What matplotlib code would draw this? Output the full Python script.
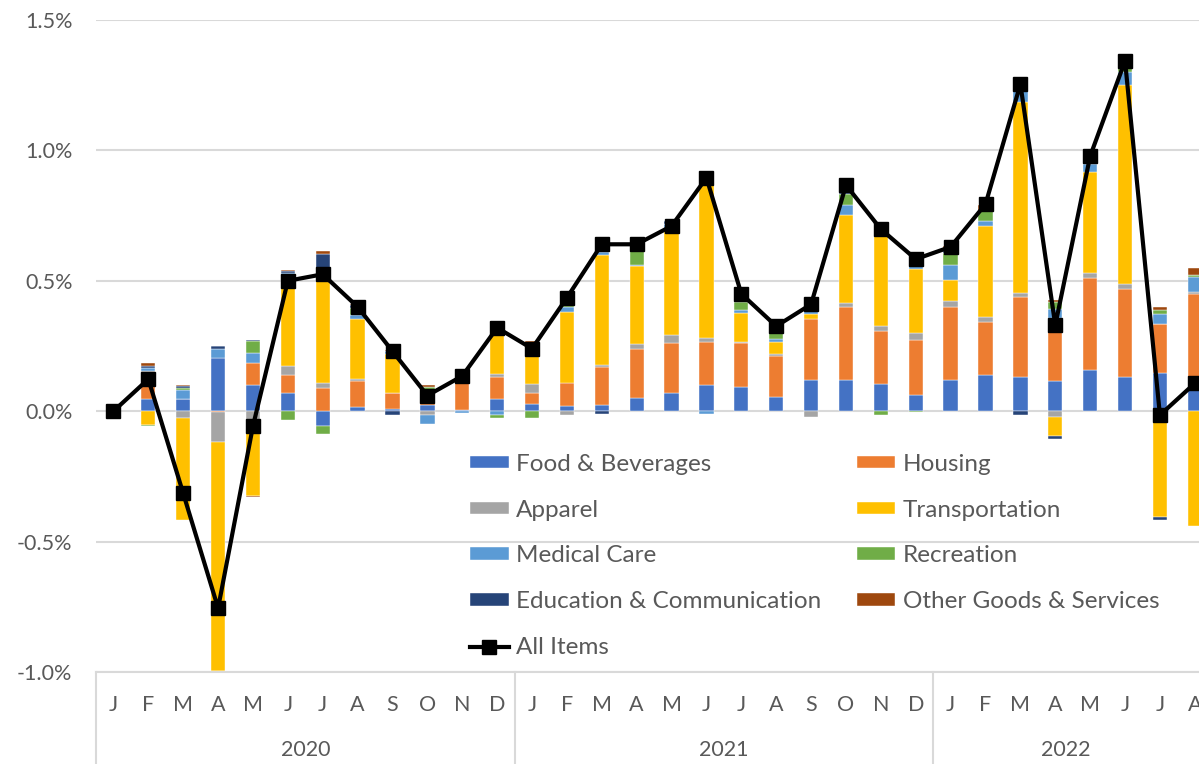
import matplotlib
matplotlib.use("Agg")
import matplotlib.pyplot as plt
import numpy as np
from matplotlib.ticker import FuncFormatter

plt.rcParams['font.family'] = ['Lato', 'DejaVu Sans']

months = ["J", "F", "M", "A", "M", "J", "J", "A", "S", "O", "N", "D"] * 2 + ["J", "F", "M", "A", "M", "J", "J", "A"]
years = ["2020", "2021", "2022"]

# monthly contributions, percentage points
food = [0, 0.045, 0.045, 0.204, 0.102, 0.07, -0.055, 0.017, 0.009, 0.024, 0.005, 0.045,
        0.026, 0.019, 0.022, 0.049, 0.068, 0.10, 0.091, 0.055, 0.121, 0.119, 0.104, 0.061,
        0.119, 0.139, 0.13, 0.114, 0.158, 0.13, 0.146, 0.086]
housing = [0, 0.096, 0, -0.004, 0.083, 0.07, 0.089, 0.098, 0.061, 0.018, 0.105, 0.086,
           0.042, 0.089, 0.148, 0.188, 0.192, 0.164, 0.171, 0.157, 0.234, 0.281, 0.203, 0.211,
           0.279, 0.202, 0.307, 0.244, 0.353, 0.339, 0.189, 0.364]
apparel = [0, 0.013, -0.027, -0.115, -0.068, 0.032, 0.019, 0.009, 0, -0.013, 0, 0.01,
           0.037, -0.015, 0.006, 0.019, 0.031, 0.015, 0.004, 0.009, -0.023, 0.015, 0.019, 0.026,
           0.026, 0.019, 0.015, -0.023, 0.019, 0.019, 0, 0.006]
transport = [0, -0.053, -0.39, -0.876, -0.256, 0.332, 0.39, 0.231, 0.151, 0.03, 0, 0.185,
             0.116, 0.271, 0.424, 0.30, 0.406, 0.601, 0.109, 0.045, 0.019, 0.336, 0.349, 0.249,
             0.079, 0.352, 0.735, -0.073, 0.389, 0.761, -0.406, -0.44]
medical = [0, 0.013, 0.038, 0.035, 0.038, 0.026, 0.006, 0.013, 0.009, -0.036, -0.008, -0.015,
           0.028, 0.019, 0.009, 0.006, 0.019, -0.01, 0.013, 0.009, 0.013, 0.038, 0.023, 0.019,
           0.058, 0.017, 0.042, 0.035, 0.029, 0.051, 0.036, 0.058]
recreation = [0, -0.005, 0.006, -0.01, 0.045, -0.032, -0.032, 0.028, 0, 0.019, 0.02, -0.01,
              -0.026, 0.017, 0.023, 0.051, 0, 0.02, 0.032, 0.029, 0, 0.042, -0.013, -0.004,
              0.045, 0.038, 0.013, 0.026, 0.013, 0.019, 0.018, 0.009]
education = [0, 0.006, 0.006, 0.01, 0.006, 0.006, 0.10, 0.01, -0.015, 0, 0.006, 0,
             0.01, 0, -0.009, 0.019, 0.013, 0, 0.013, 0, 0.025, 0.015, 0.008, 0.01,
             0.013, 0, -0.013, -0.01, 0, 0.005, -0.013, 0]
other = [0, 0.013, 0.006, 0, -0.004, 0.006, 0.009, 0.005, 0.005, 0.01, 0.005, 0.02,
         0.01, 0.02, 0.023, 0.013, 0, 0.006, 0.019, 0.026, 0.014, 0.01, 0.008, 0.01,
         0.013, 0.022, 0.019, 0.009, 0.019, 0.023, 0.01, 0.026]
all_items = [0.0, 0.123, -0.315, -0.755, -0.057, 0.50, 0.525, 0.40, 0.23, 0.06, 0.135, 0.32,
             0.24, 0.435, 0.64, 0.64, 0.71, 0.895, 0.45, 0.326, 0.41, 0.867, 0.698, 0.583,
             0.63, 0.794, 1.254, 0.33, 0.978, 1.343, -0.015, 0.107]

series = [
    ("Food & Beverages", food, "#4472C4"),
    ("Housing", housing, "#ED7D31"),
    ("Apparel", apparel, "#A5A5A5"),
    ("Transportation", transport, "#FFC000"),
    ("Medical Care", medical, "#5B9BD5"),
    ("Recreation", recreation, "#70AD47"),
    ("Education & Communication", education, "#264478"),
    ("Other Goods & Services", other, "#9E480E"),
]

grey = "#595959"
fs = 15.5
lfs = 17.5

fig = plt.figure(figsize=(11.99, 7.64), dpi=100)
ax = fig.add_axes([96 / 1199, 1 - 672 / 764, 1 - 96 / 1199, (672 - 20) / 764])

x = np.arange(len(all_items))
pos = np.zeros(len(x))
neg = np.zeros(len(x))
handles = {}
for name, vals, col in series:
    v = np.array(vals, dtype=float)
    bottom = np.where(v >= 0, pos, neg)
    b = ax.bar(x, v, 0.41, bottom=bottom, color=col, edgecolor="white", linewidth=0.3,
               label=name, zorder=2)
    handles[name] = b
    pos += np.where(v >= 0, v, 0)
    neg += np.where(v < 0, v, 0)

line, = ax.plot(x, all_items, color="black", lw=3, marker="s", markersize=9.5,
                label="All Items", zorder=3)

xmax = 31.12
ax.set_xlim(-0.5, xmax)
ax.set_ylim(-1.0, 1.5)
ax.set_yticks([-1.0, -0.5, 0.0, 0.5, 1.0, 1.5])
ax.yaxis.set_major_formatter(FuncFormatter(lambda v, p: f"{v:.1f}%"))
ax.grid(axis="y", color="#d9d9d9", lw=1.5, zorder=0)
ax.set_axisbelow(True)
for s in ["top", "right", "left"]:
    ax.spines[s].set_visible(False)
ax.spines["bottom"].set_color("#d9d9d9")
ax.spines["bottom"].set_linewidth(1.5)
ax.tick_params(axis="y", length=0, pad=17, labelsize=fs, labelcolor=grey)
ax.tick_params(axis="x", length=0)
ax.set_xticks([])

# two-level category axis
trans = ax.get_xaxis_transform()
h = 652.0
for i, m in enumerate(months):
    ax.text(i, -(705 - 672) / h, m, transform=trans, ha="center", va="center",
            fontsize=fs, color=grey)
for k, yr in enumerate(years):
    lo = k * 12 - 0.5
    hi = min(lo + 12, xmax)
    ax.text((lo + hi) / 2, -(750 - 672) / h, yr, transform=trans,
            ha="center", va="center", fontsize=fs, color=grey)
for sep in [-0.5, 11.5, 23.5]:
    ax.plot([sep, sep], [0, -(764 - 672) / h], transform=trans, color="#d9d9d9",
            lw=1.5, clip_on=False)

order = ["Food & Beverages", "Apparel", "Medical Care", "Education & Communication",
         None, "Housing", "Transportation", "Recreation", "Other Goods & Services"]
hl, ll = [], []
for n in order:
    if n is None:
        hl.append(line)
        ll.append("All Items")
    else:
        hl.append(handles[n])
        ll.append(n)
leg = fig.legend(hl, ll, ncol=2, loc="upper left", bbox_to_anchor=(448 / 1199, 1 - 432 / 764),
                 frameon=False, fontsize=lfs, labelcolor=grey, handlelength=1.6,
                 handleheight=0.42, handletextpad=0.3, columnspacing=1.45, labelspacing=1.02)

fig.savefig("out.png", dpi=100)
